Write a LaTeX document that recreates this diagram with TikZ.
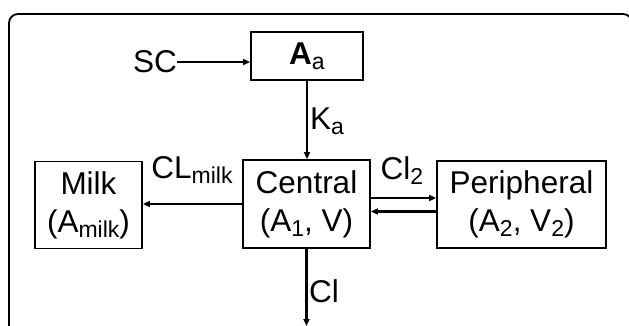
\documentclass[tikz,border=0pt]{standalone}
\usepackage{fontspec}
\setmainfont{Liberation Sans}
\usepackage{tikz}
\usetikzlibrary{arrows.meta, positioning, calc}

\newcommand{\lowsub}[1]{\raisebox{-5pt}{\fontsize{23}{23}\selectfont #1}}

\begin{document}
\begin{tikzpicture}[x=1pt, y=-1pt,
    box/.style={draw, line width=1.8pt, align=center, inner sep=0pt,
        font=\fontsize{31.5}{38}\selectfont},
    lbl/.style={inner sep=0pt, font=\fontsize{31.5}{36}\selectfont},
    flow/.style={line width=2.2pt, -{Triangle[length=7pt, width=6pt]}}]
    \useasboundingbox (0, 0) rectangle (629, 326);
    \clip (0, 0) rectangle (629, 326);
    \draw[line width=1.8pt, rounded corners=9pt] (9, 14) rectangle (632, 400);

    \node[box, minimum width=112pt, minimum height=48pt] (aa) at (307, 56) {\textbf{A}\lowsub{a}};
    \node[box, minimum width=127pt, minimum height=88pt] (central) at (306.5, 204) {Central\\(A\lowsub{1}, V)};
    \node[box, minimum width=107pt, minimum height=87pt] (milk) at (88.5, 205) {Milk\\(A\lowsub{milk})};
    \node[box, minimum width=169pt, minimum height=87pt] (periph) at (521.5, 204.5) {Peripheral\\(A\lowsub{2}, V\lowsub{2})};

    \node[lbl, anchor=east] (sc) at (177, 62) {SC};
    \node[lbl] (ka) at (327, 121) {K\lowsub{a}};
    \node[lbl] (clmilk) at (192, 170) {CL\lowsub{milk}};
    \node[lbl] (cltwo) at (402, 171) {Cl\lowsub{2}};
    \node[lbl] (cl) at (324, 291) {Cl};
    \coordinate (out) at (306, 326);

    \draw[flow] (sc.east) -- (sc.east -| aa.west);
    \draw[flow] (aa.south) -- (aa.south |- central.north);
    \draw[flow] (central.west) -- (central.west -| milk.east);
    \draw[flow] ([yshift=6pt]central.east) -- ([yshift=6pt]central.east -| periph.west);
    \draw[flow] ([yshift=-7pt]periph.west) -- ([yshift=-7pt]periph.west -| central.east);
    \draw[flow] (central.south) -- (central.south |- out);
\end{tikzpicture}
\end{document}
